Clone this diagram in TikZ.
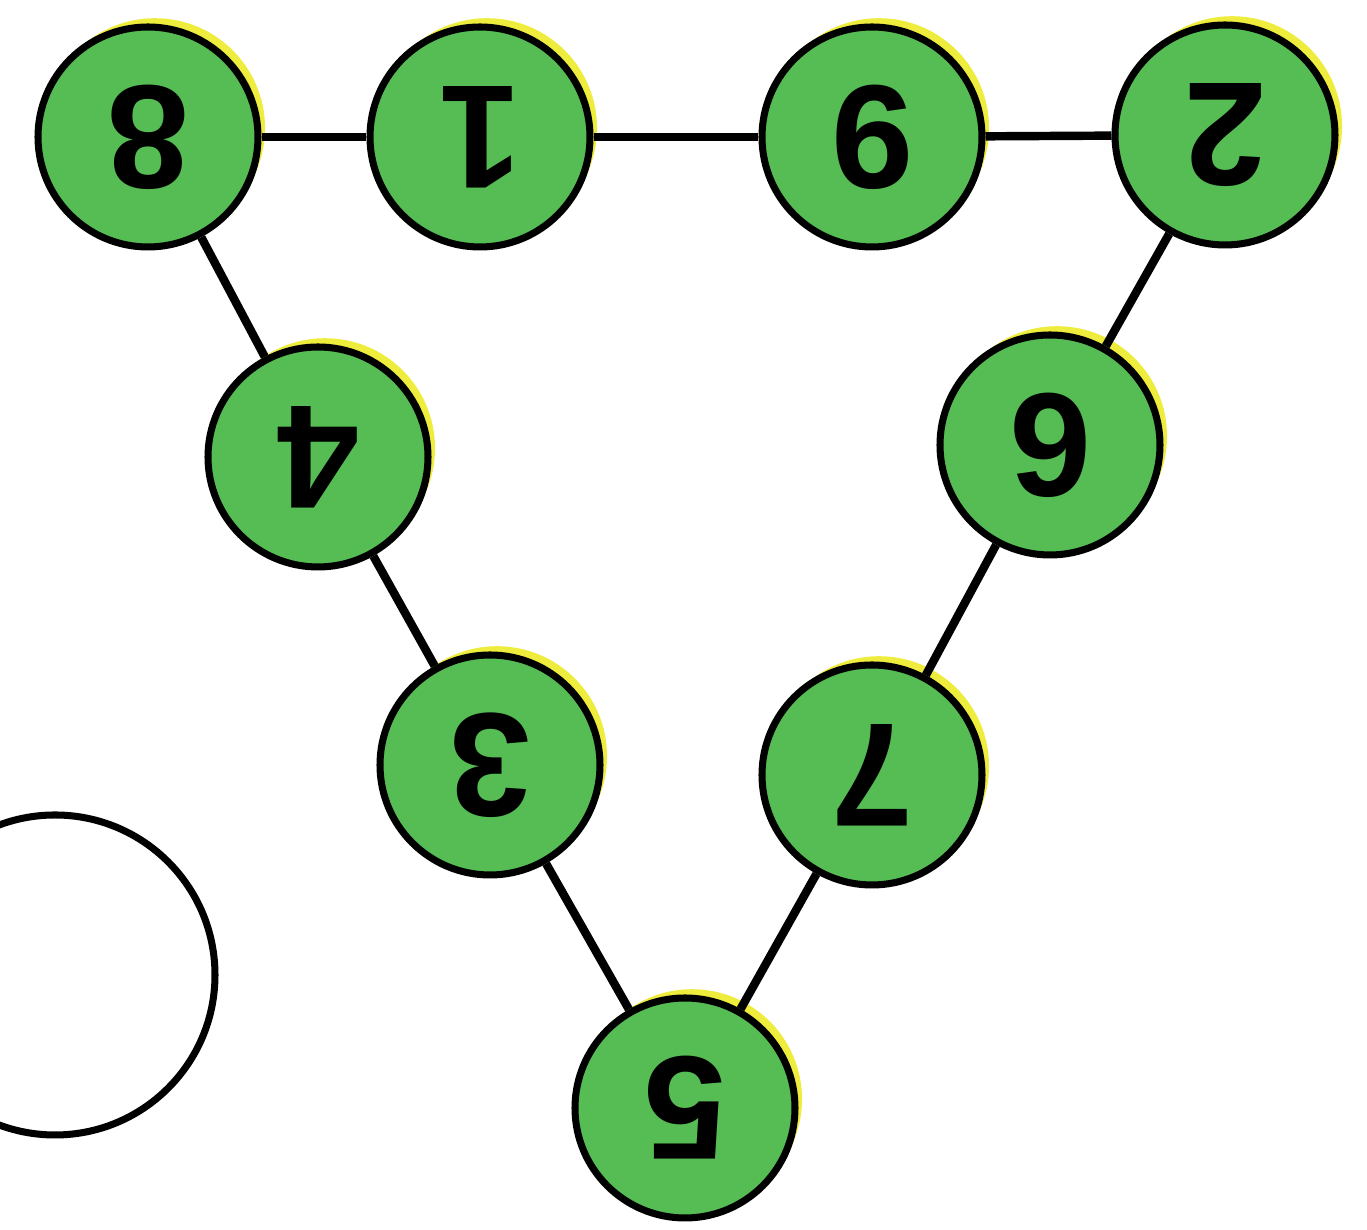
\documentclass[tikz,border=0pt]{standalone}
\usepackage{fontspec}
\setmainfont{Liberation Sans}
\usetikzlibrary{calc}

\definecolor{ballgreen}{RGB}{86,188,84}
\definecolor{ballrim}{RGB}{238,236,60}

\begin{document}
\begin{tikzpicture}[ball/.style={draw,circle,line width=2pt,fill=ballgreen,minimum size=2.2cm,inner sep=0,
	rotate=180,font=\fontsize{42}{42}\selectfont\bfseries,
	preaction={fill=ballrim,transform canvas={xshift=2pt,yshift=2.5pt}}},
link/.style={line width=2.4pt},
spare/.style={line width=2pt}]
	\useasboundingbox (0,0) rectangle (13.67,12.30);
	\def\yy{10.93}
	%top row
	\node[ball] at (1.48,\yy) (b8) {8};
	\node[ball] at (4.80,\yy) (b1) {1};
	\node[ball] at (8.72,\yy) (b9) {9};
	\node[ball] at (12.25,10.95) (b2) {2};
	%left side
	\node[ball] at (3.18,7.73) (b4) {4};
	\node[ball] at (4.90,4.65) (b3) {3};
	%right side
	\node[ball] at (10.50,7.85) (b6) {6};
	\node[ball] at (8.72,4.55) (b7) {7};
	%bottom
	\node[ball] at (6.85,1.22) (b5) {5};

	\foreach \a/\b in {8/1,1/9,9/2,8/4,4/3,3/5,2/6,6/7,7/5} {
		\draw[link] (b\a) -- (b\b);
	}

	%empty circle
	\node[spare,draw,circle,minimum size=3.2cm,inner sep=0] at (0.55,2.55) (free) {};
\end{tikzpicture}
\end{document}
